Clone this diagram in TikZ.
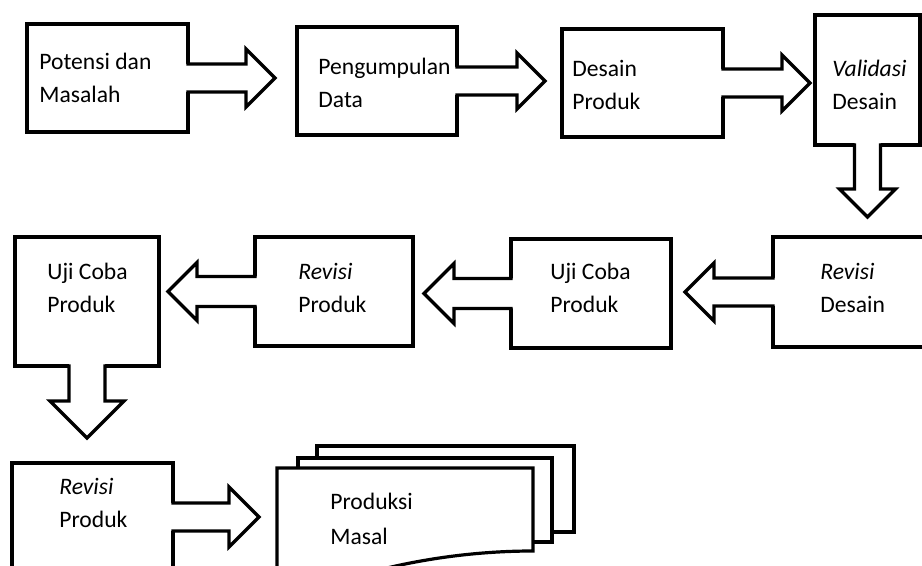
\documentclass[tikz,border=0pt]{standalone}
\usepackage{fontspec}
\setmainfont{Carlito}
\usetikzlibrary{calc}
\tikzset{
  box/.style={draw, rectangle, fill=white, line width=1.6pt, inner sep=0pt, outer sep=0pt},
  lbl/.style={anchor=base west, align=left, inner sep=0pt, font=\fontsize{11.8pt}{16.5pt}\selectfont},
  paper/.style={draw, fill=white, line width=1.6pt, line join=miter},
}
% block arrow: start anchor, angle, length, shaft half width, head half width
\newcommand{\blockarrow}[5]{%
  \begin{scope}[shift={(#1)}, rotate=#2]
    \fill[white] (-4,-#4) -- ({#3-#5},-#4) -- ({#3-#5},-#5) -- (#3,0) -- ({#3-#5},#5) -- ({#3-#5},#4) -- (-4,#4) -- cycle;
    \draw[line width=1.6pt, line join=miter] (-1.6,-#4) -- ({#3-#5},-#4) -- ({#3-#5},-#5) -- (#3,0) -- ({#3-#5},#5) -- ({#3-#5},#4) -- (-1.6,#4);
  \end{scope}}

\begin{document}
\begin{tikzpicture}[x=0.5pt, y=-0.5pt]
  \useasboundingbox (0,0) rectangle (922,566);
  \clip (0,0) rectangle (922,566);

  \node[box, minimum width=80.5pt, minimum height=54pt] (pm) at (107.5,78) {};
  \node[box, minimum width=80pt, minimum height=54pt] (pd) at (377,81) {};
  \node[box, minimum width=80.5pt, minimum height=54pt] (dp) at (642.5,83) {};
  \node[box, minimum width=52.5pt, minimum height=65pt] (vd) at (867.5,80) {};
  \node[box, minimum width=81pt, minimum height=55pt] (rd) at (854,292) {};
  \node[box, minimum width=80pt, minimum height=54.5pt] (ucp) at (591,293.5) {};
  \node[box, minimum width=79pt, minimum height=54.5pt] (rp) at (334,291.5) {};
  \node[box, minimum width=72pt, minimum height=64.5pt] (uc) at (87,301.5) {};
  \node[box, minimum width=80.5pt, minimum height=54pt] (rpb) at (92.5,517) {};

  \draw[paper] (317,446) rectangle (574,532);
  \draw[paper] (298,458) rectangle (552,542);
  \draw[paper] (277,468) -- (533,468) -- (533,551) .. controls (480,551) and (420,558) .. (360,575) -- (277,575) -- cycle;

  \blockarrow{pm.east}{0}{87}{14}{29}
  \blockarrow{pd.east}{0}{88}{14}{28}
  \blockarrow{dp.east}{0}{87}{14}{28}
  \blockarrow{vd.south}{-90}{72}{13}{28}
  \blockarrow{rd.west}{180}{88}{14}{29}
  \blockarrow{ucp.west}{180}{87}{15}{30}
  \blockarrow{rp.west}{180}{87}{15}{29}
  \blockarrow{uc.south}{-90}{72}{18}{37}
  \blockarrow{rpb.east}{0}{86}{14}{30}

  \node[lbl] (pm-t) at ($(pm.north west)+(12,79)$) {Potensi dan\\Masalah};
  \node[lbl] (pd-t) at ($(pd.north west)+(21,81)$) {Pengumpulan\\Data};
  \node[lbl] (dp-t) at ($(dp.north west)+(10,81)$) {Desain\\Produk};
  \node[lbl] (vd-t) at ($(vd.north west)+(17,95)$) {\textit{Validasi}\\Desain};
  \node[lbl] (rd-t) at ($(rd.north west)+(47,76)$) {\textit{Revisi}\\Desain};
  \node[lbl] (ucp-t) at ($(ucp.north west)+(39,74)$) {Uji Coba\\Produk};
  \node[lbl] (rp-t) at ($(rp.north west)+(43,76)$) {\textit{Revisi}\\Produk};
  \node[lbl] (uc-t) at ($(uc.north west)+(32,76)$) {Uji Coba\\Produk};
  \node[lbl] (rpb-t) at ($(rpb.north west)+(47,65)$) {\textit{Revisi}\\Produk};
  \node[lbl, font=\fontsize{11.8pt}{17.5pt}\selectfont] (doc) at (330,545) {Produksi\\Masal};
\end{tikzpicture}
\end{document}
